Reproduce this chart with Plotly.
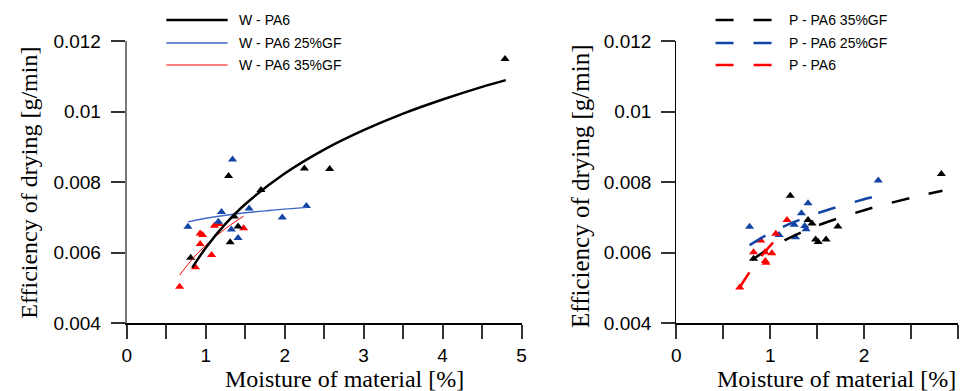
import plotly.graph_objects as go

# ---------------- data ----------------
# Left panel (W - ...) measured points
w_pa6_x = [0.81, 1.29, 1.31, 1.36, 1.41, 1.70, 2.25, 2.57, 4.79]
w_pa6_y = [0.00585, 0.00817, 0.00629, 0.00702, 0.00674, 0.00777, 0.00838, 0.00837, 0.01149]
w_gf25_x = [0.775, 1.16, 1.20, 1.325, 1.34, 1.41, 1.55, 1.97, 2.275]
w_gf25_y = [0.00673, 0.00687, 0.00715, 0.00665, 0.00864, 0.00641, 0.00725, 0.00699, 0.00732]
w_gf35_x = [0.67, 0.87, 0.93, 0.93, 0.96, 1.075, 1.11, 1.17, 1.48]
w_gf35_y = [0.00503, 0.00558, 0.00624, 0.00654, 0.00650, 0.00593, 0.00676, 0.00681, 0.00669]

# Left panel trend curves
w_pa6_fit_x = [0.83, 1.0, 1.25, 1.5, 2.0, 2.5, 3.0, 3.5, 4.0, 4.5, 4.8]
w_pa6_fit_y = [0.00557, 0.00613, 0.00681, 0.00737, 0.00824, 0.00892, 0.00947, 0.00994, 0.01034, 0.01070, 0.01089]
w_gf25_fit_x = [0.775, 1.0, 1.4, 1.8, 2.28]
w_gf25_fit_y = [0.00687, 0.00697, 0.00710, 0.00719, 0.00728]
w_gf35_fit_x = [0.67, 0.8, 0.9, 1.0, 1.1, 1.2, 1.3, 1.48]
w_gf35_fit_y = [0.00536, 0.00573, 0.00598, 0.00620, 0.00641, 0.00659, 0.00676, 0.00703]

# Right panel (P - ...) measured points
p_gf35_x = [0.823, 1.214, 1.403, 1.445, 1.484, 1.511, 1.595, 1.721, 2.823]
p_gf35_y = [0.00582, 0.00761, 0.00692, 0.00682, 0.00637, 0.00630, 0.00637, 0.00674, 0.00823]
p_gf25_x = [0.781, 1.095, 1.256, 1.27, 1.333, 1.368, 1.382, 1.403, 2.151]
p_gf25_y = [0.00673, 0.00650, 0.00679, 0.00643, 0.00711, 0.00675, 0.00666, 0.00740, 0.00804]
p_pa6_x = [0.676, 0.823, 0.899, 0.944, 0.948, 0.955, 1.018, 1.06, 1.179]
p_pa6_y = [0.00501, 0.00601, 0.00634, 0.00601, 0.00576, 0.00571, 0.00598, 0.00653, 0.00692]

# Right panel trend curves
p_gf35_fit_x = [0.805, 1.0, 1.25, 1.5, 2.0, 2.5, 2.834]
p_gf35_fit_y = [0.00579, 0.00612, 0.00647, 0.00676, 0.00720, 0.00755, 0.00775]
p_gf25_fit_x = [0.781, 1.0, 1.25, 1.5, 1.75, 2.0, 2.15]
p_gf25_fit_y = [0.00621, 0.00655, 0.00686, 0.00711, 0.00732, 0.00751, 0.00761]
p_pa6_fit_x = [0.676, 0.75, 0.85, 0.95, 1.05, 1.18]
p_pa6_fit_y = [0.00501, 0.00532, 0.00570, 0.00604, 0.00634, 0.00669]

left_names = ["W - PA6", "W - PA6 25%GF", "W - PA6 35%GF"]
right_names = ["P - PA6 35%GF", "P - PA6 25%GF", "P - PA6"]

x_left_ticks = [0, 0.5, 1, 1.5, 2, 2.5, 3, 3.5, 4, 4.5, 5]
x_left_text = ["0", "", "1", "", "2", "", "3", "", "4", "", "5"]
x_right_ticks = [0, 0.5, 1, 1.5, 2, 2.5, 3]
x_right_text = ["0", "", "1", "", "2", "", "3"]
y_ticks = [0.004, 0.006, 0.008, 0.010, 0.012]
y_text = ["0.004", "0.006", "0.008", "0.01", "0.012"]

x_title = "Moisture of material [%]"
y_title = "Efficiency of drying [g/min]"

# ---------------- styles ----------------
BLACK = "#000000"
BLUE = "#1244a6"
BLUE_LIGHT = "#3f68c4"
RED = "#ff0000"
SANS = "Liberation Sans, Arial, sans-serif"
SERIF = "Liberation Serif, Times New Roman, serif"
DASH = "18px,20px"

W, H = 963, 391
ML, MR, MT, MB = 0, 0, 41, 68
PH = H - MT - MB


def px_x(p):
    return p / W


def px_y(p):
    return (H - MB - p) / PH


fig = go.Figure()

def scatter(x, y, color, xa, ya):
    fig.add_trace(go.Scatter(x=x, y=y, mode="markers", xaxis=xa, yaxis=ya,
                             marker=dict(symbol="triangle-up", size=8, color=color),
                             showlegend=False, hoverinfo="skip"))

def curve(x, y, color, width, dash, xa, ya, name):
    fig.add_trace(go.Scatter(x=x, y=y, mode="lines", xaxis=xa, yaxis=ya, name=name,
                             line=dict(color=color, width=width, dash=dash, shape="spline"),
                             showlegend=False))

# left panel
scatter(w_gf35_x, w_gf35_y, RED, "x", "y")
scatter(w_gf25_x, w_gf25_y, BLUE, "x", "y")
scatter(w_pa6_x, w_pa6_y, BLACK, "x", "y")
curve(w_gf25_fit_x, w_gf25_fit_y, BLUE_LIGHT, 1.4, "solid", "x", "y", left_names[1])
curve(w_gf35_fit_x, w_gf35_fit_y, RED, 1.0, "solid", "x", "y", left_names[2])
curve(w_pa6_fit_x, w_pa6_fit_y, BLACK, 2.5, "solid", "x", "y", left_names[0])

# right panel
scatter(p_gf35_x, p_gf35_y, BLACK, "x2", "y2")
scatter(p_gf25_x, p_gf25_y, BLUE, "x2", "y2")
scatter(p_pa6_x, p_pa6_y, RED, "x2", "y2")
curve(p_gf35_fit_x, p_gf35_fit_y, BLACK, 2.5, DASH, "x2", "y2", right_names[0])
curve(p_gf25_fit_x, p_gf25_fit_y, BLUE, 2.5, DASH, "x2", "y2", right_names[1])
curve(p_pa6_fit_x, p_pa6_fit_y, RED, 2.5, DASH, "x2", "y2", right_names[2])

tickfont = dict(family=SANS, size=19, color="black")
common_x = dict(showgrid=False, zeroline=False, showline=True, linecolor="black", linewidth=1.5,
                ticks="outside", ticklen=14, tickwidth=1.5, tickcolor="#333",
                tickfont=tickfont, ticklabelstandoff=0)
common_y = dict(showgrid=False, zeroline=False, showline=True,
                ticks="outside", ticklen=14, tickwidth=1.5, tickcolor="#333",
                tickfont=tickfont, range=[0.004, 0.012], tickvals=y_ticks, ticktext=y_text,
                ticklabelstandoff=6)

fig.update_layout(
    width=W, height=H,
    margin=dict(l=ML, r=MR, t=MT, b=MB),
    paper_bgcolor="white", plot_bgcolor="white",
    showlegend=False,
    xaxis=dict(domain=[123 / W, 522 / W], range=[0, 5], tickvals=x_left_ticks,
               ticktext=x_left_text, anchor="y", **common_x),
    yaxis=dict(domain=[0, 1], anchor="x", linecolor="#7a7a7a", linewidth=2, **common_y),
    xaxis2=dict(domain=[678.3 / W, 1.0], range=[0, 3], tickvals=x_right_ticks,
                ticktext=x_right_text, anchor="y2", **common_x),
    yaxis2=dict(domain=[0, 1], anchor="x2", linecolor="black", linewidth=1.2, **common_y),
)

# axis titles
ann = []
ann.append(dict(text=x_title, x=px_x(343), y=px_y(379), xref="paper", yref="paper",
                showarrow=False, font=dict(family=SERIF, size=24, color="black"),
                xanchor="center", yanchor="middle"))
ann.append(dict(text=x_title, x=px_x(840), y=px_y(379), xref="paper", yref="paper",
                showarrow=False, font=dict(family=SERIF, size=24, color="black"),
                xanchor="center", yanchor="middle"))
ann.append(dict(text=y_title, x=px_x(24), y=px_y(183), xref="paper", yref="paper",
                showarrow=False, textangle=-90, font=dict(family=SERIF, size=24, color="black"),
                xanchor="center", yanchor="middle"))
ann.append(dict(text=y_title, x=px_x(581), y=px_y(186), xref="paper", yref="paper",
                showarrow=False, textangle=-90, font=dict(family=SERIF, size=25, color="black"),
                xanchor="center", yanchor="middle"))

# hand-built legends (long line samples as in the reference)
shapes = []
rows = [20, 43, 65]
left_styles = [(BLACK, 2.5, "solid"), (BLUE_LIGHT, 1.5, "solid"), (RED, 1.0, "solid")]
right_styles = [(BLACK, 2.5, DASH), (BLUE, 2.5, DASH), (RED, 2.5, DASH)]
for name, (c, w, d), r in zip(left_names, left_styles, rows):
    shapes.append(dict(type="line", xref="paper", yref="paper", x0=px_x(163), x1=px_x(225),
                       y0=px_y(r), y1=px_y(r), line=dict(color=c, width=w, dash=d)))
    ann.append(dict(text=name, x=px_x(234), y=px_y(r), xref="paper", yref="paper",
                    showarrow=False, xanchor="left", yanchor="middle",
                    font=dict(family=SANS, size=14, color="black")))
for name, (c, w, d), r in zip(right_names, right_styles, rows):
    shapes.append(dict(type="line", xref="paper", yref="paper", x0=px_x(718), x1=px_x(775),
                       y0=px_y(r), y1=px_y(r), line=dict(color=c, width=w, dash=d)))
    ann.append(dict(text=name, x=px_x(790), y=px_y(r), xref="paper", yref="paper",
                    showarrow=False, xanchor="left", yanchor="middle",
                    font=dict(family=SANS, size=14, color="black")))

fig.update_layout(annotations=ann, shapes=shapes)

fig.write_html("out.html")
